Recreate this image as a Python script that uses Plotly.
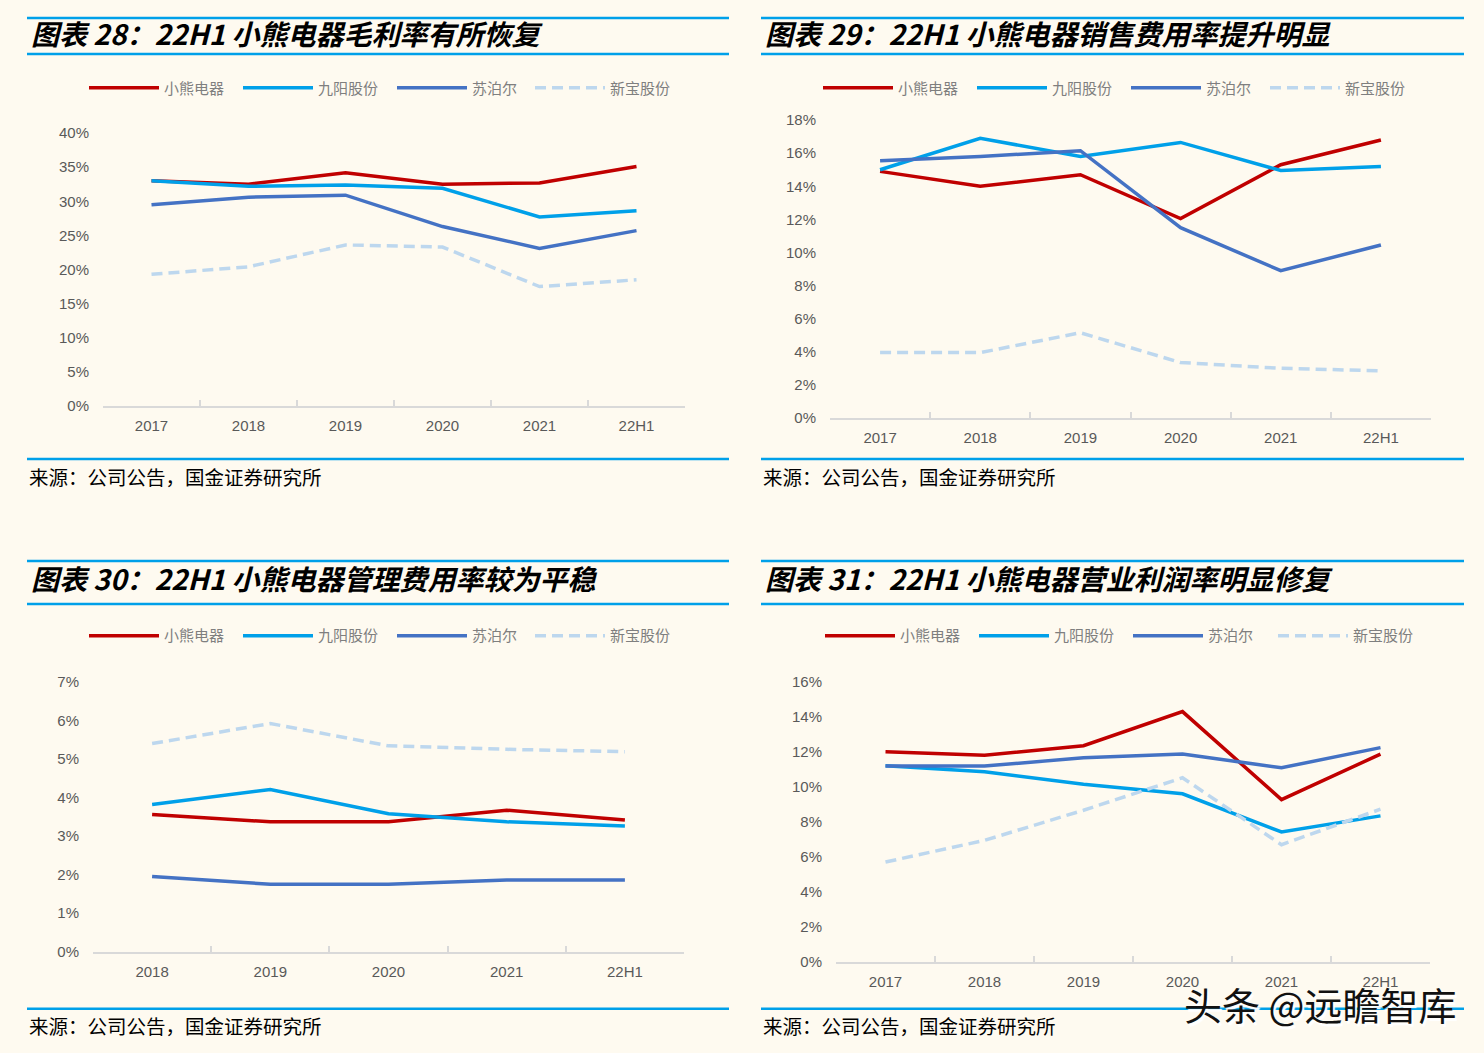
import plotly.graph_objects as go

W, H = 1484, 1053          # target picture size (reference pixels)
PAD = 8                    # default body margin of the html page
FW, FH = W - 2 * PAD, H - 2 * PAD
YS, YO = 0.984, 8.0        # observed vertical mapping of the photographed page

series_names = ["小熊电器", "九阳股份", "苏泊尔", "新宝股份"]
series_colors = ["#C00000", "#00A0E9", "#4472C4", "#BDD7EE"]
series_dash = ["solid", "solid", "solid", "11px,6px"]

years6 = ["2017", "2018", "2019", "2020", "2021", "22H1"]
years5 = ["2018", "2019", "2020", "2021", "22H1"]

# Chart 28: gross margin (%)
gross_bear = [33.0, 32.5, 34.2, 32.5, 32.7, 35.1]
gross_joyoung = [33.0, 32.2, 32.4, 31.9, 27.7, 28.6]
gross_supor = [29.5, 30.6, 30.9, 26.3, 23.1, 25.7]
gross_deer = [19.3, 20.4, 23.6, 23.3, 17.5, 18.5]

# Chart 29: selling expense ratio (%)
sales_bear = [14.9, 14.0, 14.7, 12.05, 15.3, 16.8]
sales_joyoung = [15.0, 16.9, 15.8, 16.65, 14.95, 15.2]
sales_supor = [15.55, 15.8, 16.15, 11.5, 8.9, 10.45]
sales_deer = [3.95, 3.95, 5.15, 3.35, 3.0, 2.85]

# Chart 30: admin expense ratio (%)
admin_bear = [3.56, 3.37, 3.37, 3.67, 3.42]
admin_joyoung = [3.82, 4.21, 3.58, 3.37, 3.26]
admin_supor = [1.95, 1.75, 1.75, 1.86, 1.86]
admin_deer = [5.40, 5.92, 5.34, 5.25, 5.19]

# Chart 31: operating margin (%)
op_bear = [12.0, 11.8, 12.35, 14.3, 9.27, 11.87]
op_joyoung = [11.2, 10.86, 10.15, 9.6, 7.42, 8.34]
op_supor = [11.19, 11.19, 11.66, 11.87, 11.09, 12.24]
op_deer = [5.7, 6.94, 8.66, 10.52, 6.69, 8.72]

titles = [
    "图表 28：22H1 小熊电器毛利率有所恢复",
    "图表 29：22H1 小熊电器销售费用率提升明显",
    "图表 30：22H1 小熊电器管理费用率较为平稳",
    "图表 31：22H1 小熊电器营业利润率明显修复",
]
source_text = "来源：公司公告，国金证券研究所"
watermark = "头条 @远瞻智库"

panels = [
    dict(cats=years6, data=[gross_bear, gross_joyoung, gross_supor, gross_deer], ymax=40, dtick=5,
         px=(103, 685), py=(405, 132), left=27, right=729, t1=11, t2=53, ty=31.5,
         leg=(84, 87), leg4=530, src=(458, 476)),
    dict(cats=years6, data=[sales_bear, sales_joyoung, sales_supor, sales_deer], ymax=18, dtick=2,
         px=(830, 1431), py=(417, 119), left=761, right=1464, t1=11, t2=53, ty=31.5,
         leg=(818, 87), leg4=1265, src=(458, 476)),
    dict(cats=years5, data=[admin_bear, admin_joyoung, admin_supor, admin_deer], ymax=7, dtick=1,
         px=(93, 684), py=(951, 681), left=27, right=729, t1=560, t2=603, ty=577,
         leg=(84, 635), leg4=530, src=(1008, 1025)),
    dict(cats=years6, data=[op_bear, op_joyoung, op_supor, op_deer], ymax=16, dtick=2,
         px=(836, 1430), py=(961, 681), left=761, right=1464, t1=560, t2=603, ty=577,
         leg=(820, 635), leg4=1273, src=(1008, 1025)),
]

def fx(p):
    return (p - PAD) / FW

def fy(p):
    page = (p - YO) / YS
    page = min(max(page, PAD + 1), PAD + FH - 1)
    return 1 - (page - PAD) / FH

fig = go.Figure()
layout = {}
shapes = []
annotations = []

tick_font = dict(family="Liberation Sans, Arial, sans-serif", size=15, color="#595959")
legend_font = dict(family="Noto Sans CJK SC", size=15, color="#7F7F7F")

for i, pn in enumerate(panels):
    k = "" if i == 0 else str(i + 1)
    legA = "legend" + k
    legB = "legend" + str(i + 5)
    for j, (name, vals, col, dash) in enumerate(zip(series_names, pn["data"], series_colors, series_dash)):
        fig.add_trace(go.Scatter(
            x=pn["cats"], y=vals, name=name, mode="lines",
            line=dict(color=col, width=3.5, dash=dash),
            xaxis="x" + k, yaxis="y" + k, legend=(legA if j < 3 else legB),
            hoverinfo="x+y+name",
        ))
    n = len(pn["cats"])
    layout["xaxis" + k] = dict(
        domain=[fx(pn["px"][0]), fx(pn["px"][1])], anchor="y" + k,
        type="category", range=[-0.5, n - 0.5],
        showline=True, linecolor="#D9D9D9", linewidth=2,
        ticks="inside", tickson="boundaries", ticklen=6, tickcolor="#D9D9D9", tickwidth=1.5,
        showgrid=False, zeroline=False, tickfont=tick_font, ticklabelstandoff=5, fixedrange=True,
    )
    layout["yaxis" + k] = dict(
        domain=[fy(pn["py"][0]), fy(pn["py"][1])], anchor="x" + k,
        range=[0, pn["ymax"]], dtick=pn["dtick"], tick0=0, ticksuffix="%",
        showline=False, showgrid=False, zeroline=False, ticks="",
        tickfont=tick_font, ticklabelstandoff=13, fixedrange=True,
    )
    for lname, lx in ((legA, pn["leg"][0]), (legB, pn["leg4"])):
        layout[lname] = dict(
            orientation="h", x=fx(lx), y=fy(pn["leg"][1]),
            xanchor="left", yanchor="middle", bgcolor="rgba(0,0,0,0)",
            font=legend_font, entrywidthmode="pixels", entrywidth=69, itemwidth=70,
        )
    for yline in (pn["t1"], pn["t2"], pn["src"][0]):
        shapes.append(dict(type="line", xref="paper", yref="paper",
                           x0=fx(pn["left"]), x1=fx(pn["right"]), y0=fy(yline), y1=fy(yline),
                           line=dict(color="#00A0E9", width=2.5)))
    annotations.append(dict(
        text=titles[i], xref="paper", yref="paper", x=fx(pn["left"] + 2), y=fy(pn["ty"]),
        xanchor="left", yanchor="middle", showarrow=False,
        font=dict(family="Noto Sans CJK SC", size=28, color="#000000", weight="bold", style="italic"),
    ))
    annotations.append(dict(
        text=source_text, xref="paper", yref="paper", x=fx(pn["left"]), y=fy(pn["src"][1]),
        xanchor="left", yanchor="middle", showarrow=False,
        font=dict(family="Noto Sans CJK SC", size=19.5, color="#000000"),
    ))

annotations.append(dict(
    text=watermark, xref="paper", yref="paper", x=fx(1458), y=fy(1003),
    xanchor="right", yanchor="middle", showarrow=False,
    font=dict(family="Noto Sans CJK SC", size=38, color="#111111",
              shadow="2px 3px 1px #ffffff"),
))

fig.update_layout(
    width=FW, height=FH, margin=dict(l=0, r=0, t=0, b=0),
    paper_bgcolor="#FEFAF0", plot_bgcolor="#FEFAF0",
    showlegend=True, shapes=shapes, annotations=annotations,
    **layout,
)

fig.write_html("out.html", config={"displayModeBar": False},
               post_script="document.body.style.background='#FEFAF0';")
